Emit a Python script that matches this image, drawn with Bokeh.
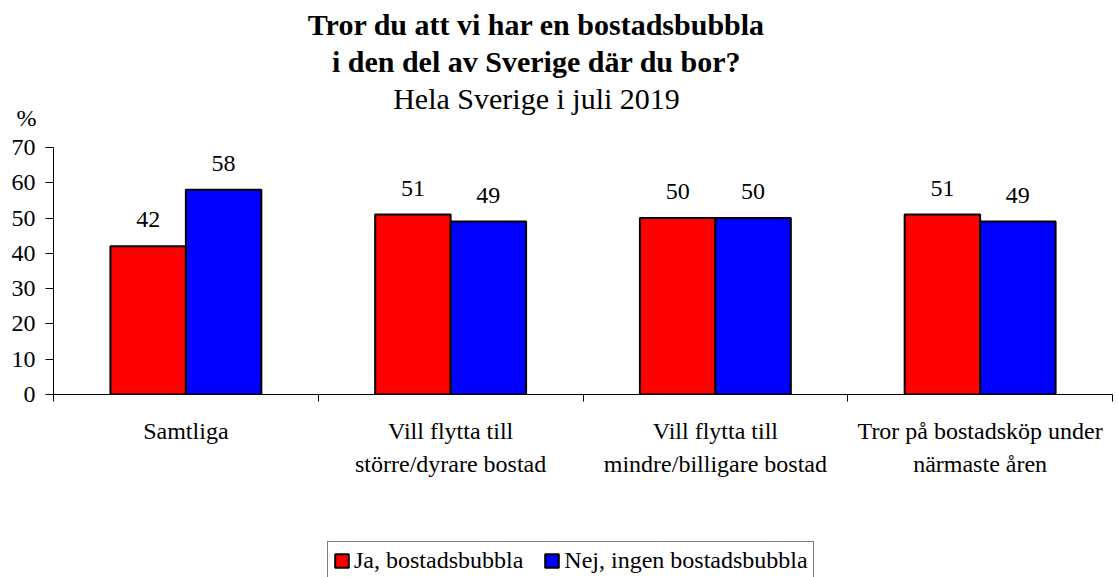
from bokeh.plotting import figure
from bokeh.layouts import column
from bokeh.models import (ColumnDataSource, Range1d, FixedTicker, Label, LabelSet,
                          Legend, LegendItem)
from bokeh.core.properties import value
from bokeh.embed import file_html
from bokeh.resources import INLINE

categories = ["Samtliga", "Vill flytta till\nstörre/dyrare bostad",
              "Vill flytta till\nmindre/billigare bostad",
              "Tror på bostadsköp under\nnärmaste åren"]
ja = [42, 51, 50, 51]
nej = [58, 49, 50, 49]
series_names = ["Ja, bostadsbubbla", "Nej, ingen bostadsbubbla"]
series_colors = ["#FF0000", "#0000FF"]
y_ticks = [0, 10, 20, 30, 40, 50, 60, 70]
title_lines = ["Tror du att vi har en bostadsbubbla", "i den del av Sverige där du bor?"]
subtitle = "Hela Sverige i juli 2019"
y_unit = "%"

FONT = "Liberation Serif"
W = 1118
BL, BR = 53, 6
n = len(categories)
centers = [i + 0.5 for i in range(n)]
bw = 0.285
off = bw / 2


def blank(fig):
    fig.outline_line_color = None
    fig.background_fill_color = "white"
    fig.border_fill_color = "white"
    fig.grid.visible = False
    return fig


# ---------------- header (titles + unit) ----------------
HH = 132
head = blank(figure(width=W, height=HH, output_backend="svg", toolbar_location=None,
                    x_range=Range1d(0, 1), y_range=Range1d(0, HH),
                    x_axis_location=None, y_axis_location="left",
                    min_border_left=BL, min_border_right=BR,
                    min_border_top=0, min_border_bottom=0))
hy = head.yaxis[0]
hy.ticker = FixedTicker(ticks=[15])
hy.major_label_overrides = {15: y_unit}
hy.axis_line_color = None
hy.major_tick_line_color = None
hy.minor_tick_line_color = None
hy.major_tick_out = 0
hy.major_label_standoff = 17
hy.major_label_text_font = FONT
hy.major_label_text_font_size = "24px"
hy.major_label_text_color = "black"

for txt, yy in zip(title_lines, [108, 71]):
    head.add_layout(Label(x=536 - BL, y=yy, x_units="screen", y_units="screen", text=txt,
                          text_align="center", text_baseline="alphabetic",
                          text_font=FONT, text_font_size="30px", text_font_style="bold",
                          text_color="black"))
head.add_layout(Label(x=536 - BL, y=34, x_units="screen", y_units="screen", text=subtitle,
                      text_align="center", text_baseline="alphabetic",
                      text_font=FONT, text_font_size="30px", text_color="black"))

# ---------------- main chart ----------------
src_ja = ColumnDataSource(dict(x=[c - off for c in centers], top=ja, lab=[str(v) for v in ja]))
src_nej = ColumnDataSource(dict(x=[c + off for c in centers], top=nej, lab=[str(v) for v in nej]))

p = blank(figure(width=W, height=398, output_backend="svg", toolbar_location=None,
                 x_range=Range1d(0, n), y_range=Range1d(0, 70),
                 min_border_left=BL, min_border_right=BR, min_border_top=15,
                 min_border_bottom=136))

p.vbar(x="x", top="top", width=bw, source=src_ja, fill_color=series_colors[0],
       line_color="black", line_width=2)
p.vbar(x="x", top="top", width=bw, source=src_nej, fill_color=series_colors[1],
       line_color="black", line_width=2)

xa = p.xaxis[0]
xa.ticker = FixedTicker(ticks=centers, minor_ticks=list(range(n + 1)))
xa.major_label_overrides = {c: lab for c, lab in zip(centers, categories)}
xa.major_label_text_font = FONT
xa.major_label_text_font_size = "24px"
xa.major_label_text_line_height = 1.3
xa.major_label_text_color = "black"
xa.major_label_standoff = 16
xa.major_tick_line_color = None
xa.major_tick_out = 0
xa.major_tick_in = 0
xa.minor_tick_out = 7
xa.minor_tick_in = 0
xa.minor_tick_line_color = "black"
xa.axis_line_color = "black"

ya = p.yaxis[0]
ya.ticker = FixedTicker(ticks=y_ticks)
ya.major_tick_out = 8
ya.major_tick_in = 0
ya.minor_tick_line_color = None
ya.axis_line_color = "black"
ya.major_tick_line_color = "black"
ya.major_label_text_font = FONT
ya.major_label_text_font_size = "24px"
ya.major_label_text_color = "black"
ya.major_label_standoff = 10

for src in (src_ja, src_nej):
    p.add_layout(LabelSet(x="x", y="top", text="lab", source=src, y_offset=19,
                          text_align="center", text_baseline="alphabetic",
                          text_font=value(FONT), text_font_size=value("24px"),
                          text_color="black"))

# ---------------- legend strip ----------------
LH = 47
leg = blank(figure(width=W, height=LH, output_backend="svg", toolbar_location=None,
                   x_range=Range1d(0, n), y_range=Range1d(-2, -1),
                   x_axis_location=None, y_axis_location=None,
                   min_border_left=BL, min_border_right=BR,
                   min_border_top=0, min_border_bottom=0))
items = []
for name, col, src in zip(series_names, series_colors, (src_ja, src_nej)):
    # same series, hidden in this strip: only its legend swatch is drawn
    r = leg.vbar(x="x", top="top", width=bw, source=src, fill_color=col,
                 line_color="black", line_width=2, visible=False)
    items.append(LegendItem(label=name, renderers=[r]))
legend = Legend(items=items, location=(327 - BL, -3), orientation="horizontal",
                glyph_width=17, glyph_height=17, label_standoff=4, spacing=20,
                padding=5, margin=0, border_line_color="black", border_line_width=1,
                label_text_font=FONT, label_text_font_size="24px", label_text_color="black",
                background_fill_alpha=1)
leg.add_layout(legend, "center")

layout = column(head, p, leg, spacing=0)
open("out.html", "w").write(file_html(layout, INLINE))
